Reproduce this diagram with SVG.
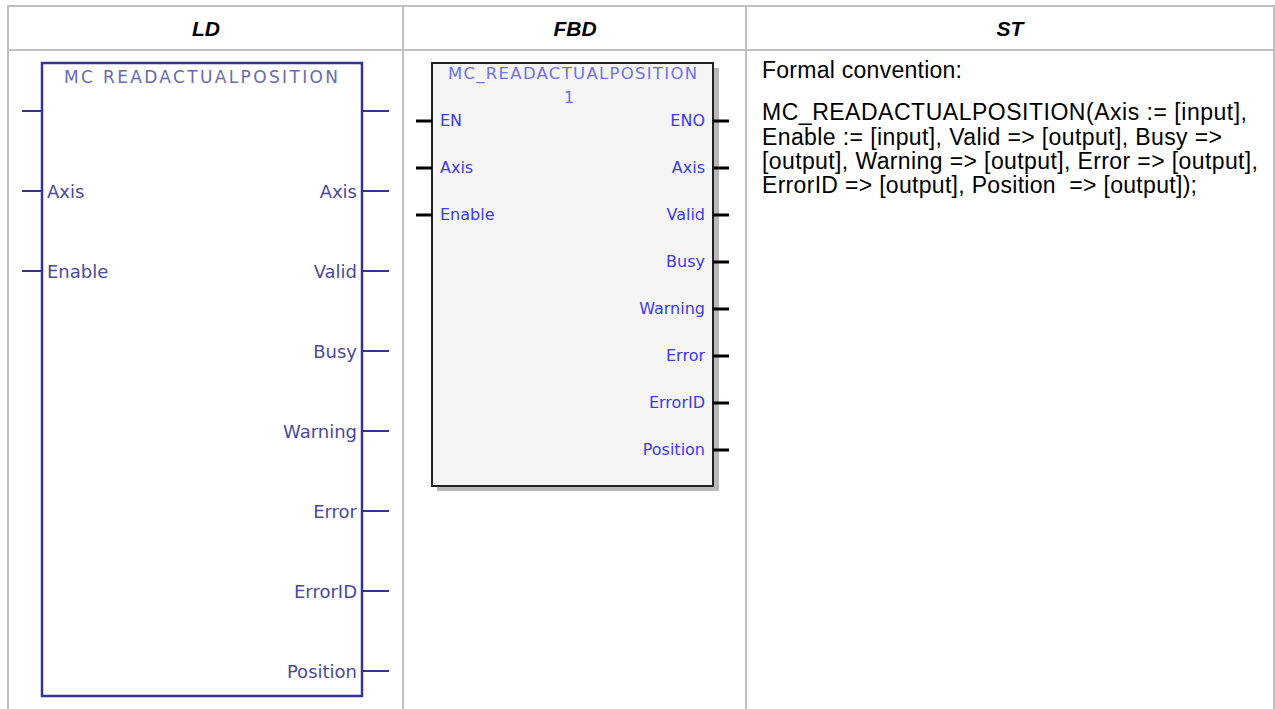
<svg xmlns="http://www.w3.org/2000/svg" width="1275" height="709" viewBox="0 0 1275 709">
<style>
.grid{stroke:#c0c0c0;stroke-width:2;fill:none}
.hdr{font-family:"Liberation Sans",Arial,sans-serif;font-weight:bold;font-style:italic;font-size:21px;fill:#000;text-anchor:middle}
.ldbox{fill:#fff;stroke:#33339a;stroke-width:2.5}
.ldpin{stroke:#33339a;stroke-width:2}
.ldt{font-family:"DejaVu Sans",Verdana,sans-serif;font-size:18px;fill:#4a4a9c}
.ldtitle{font-family:"DejaVu Sans",Verdana,sans-serif;font-size:17px;fill:#6a6ab0}
.fbbox{fill:#f5f5f5;stroke:#222;stroke-width:2}
.fbsh{fill:#b8b8b8}
.fbpin{stroke:#000;stroke-width:3}
.fbt{font-family:"DejaVu Sans",Verdana,sans-serif;font-size:16px;fill:#3a3af0}
.fbtitle{font-family:"DejaVu Sans",Verdana,sans-serif;font-size:16.5px;fill:#7070f0}
.st{font-family:"Liberation Sans",Arial,sans-serif;font-size:23px;fill:#000}
.r{text-anchor:end}
</style>
<rect width="1275" height="709" fill="#fff"/>
<g id="table">
<line class="grid" x1="8" y1="6" x2="1274" y2="6"/>
<line class="grid" x1="8" y1="50" x2="1274" y2="50"/>
<line class="grid" x1="8" y1="5" x2="8" y2="709"/>
<line class="grid" x1="403" y1="5" x2="403" y2="709"/>
<line class="grid" x1="746" y1="5" x2="746" y2="709"/>
<line class="grid" x1="1274" y1="5" x2="1274" y2="709"/>
<text class="hdr" x="206" y="36">LD</text>
<text class="hdr" x="575" y="36">FBD</text>
<text class="hdr" x="1010" y="36">ST</text>
</g>
<g id="ld-block">
<rect class="ldbox" x="42" y="63" width="320" height="633"/>
<text class="ldtitle" x="64" y="83" textLength="274" lengthAdjust="spacing">MC READACTUALPOSITION</text>
<g id="ld-pins">
<line class="ldpin" x1="22" y1="111" x2="42" y2="111"/>
<line class="ldpin" x1="22" y1="191" x2="42" y2="191"/>
<line class="ldpin" x1="22" y1="271" x2="42" y2="271"/>
<line class="ldpin" x1="362" y1="111" x2="389" y2="111"/>
<line class="ldpin" x1="362" y1="191" x2="389" y2="191"/>
<line class="ldpin" x1="362" y1="271" x2="389" y2="271"/>
<line class="ldpin" x1="362" y1="351" x2="389" y2="351"/>
<line class="ldpin" x1="362" y1="431" x2="389" y2="431"/>
<line class="ldpin" x1="362" y1="511" x2="389" y2="511"/>
<line class="ldpin" x1="362" y1="591" x2="389" y2="591"/>
<line class="ldpin" x1="362" y1="671" x2="389" y2="671"/>
</g>
<text class="ldt" x="47" y="198">Axis</text>
<text class="ldt" x="47" y="278">Enable</text>
<text class="ldt r" x="357" y="198">Axis</text>
<text class="ldt r" x="357" y="278">Valid</text>
<text class="ldt r" x="357" y="358">Busy</text>
<text class="ldt r" x="357" y="438">Warning</text>
<text class="ldt r" x="357" y="518">Error</text>
<text class="ldt r" x="357" y="598">ErrorID</text>
<text class="ldt r" x="357" y="678">Position</text>
</g>
<g id="fbd-block">
<rect class="fbsh" x="437" y="68" width="282" height="423"/>
<rect class="fbbox" x="432" y="63" width="281" height="423"/>
<text class="fbtitle" x="448" y="79" textLength="249" lengthAdjust="spacing">MC_READACTUALPOSITION</text>
<text class="fbtitle" x="569" y="103" text-anchor="middle">1</text>
<g id="fbd-pins">
<line class="fbpin" x1="416" y1="121" x2="432" y2="121"/>
<line class="fbpin" x1="416" y1="168" x2="432" y2="168"/>
<line class="fbpin" x1="416" y1="215" x2="432" y2="215"/>
<line class="fbpin" x1="713" y1="121" x2="729" y2="121"/>
<line class="fbpin" x1="713" y1="168" x2="729" y2="168"/>
<line class="fbpin" x1="713" y1="215" x2="729" y2="215"/>
<line class="fbpin" x1="713" y1="262" x2="729" y2="262"/>
<line class="fbpin" x1="713" y1="309" x2="729" y2="309"/>
<line class="fbpin" x1="713" y1="356" x2="729" y2="356"/>
<line class="fbpin" x1="713" y1="403" x2="729" y2="403"/>
<line class="fbpin" x1="713" y1="450" x2="729" y2="450"/>
</g>
<text class="fbt" x="440" y="126">EN</text>
<text class="fbt" x="440" y="173">Axis</text>
<text class="fbt" x="440" y="220">Enable</text>
<text class="fbt r" x="705" y="126">ENO</text>
<text class="fbt r" x="705" y="173">Axis</text>
<text class="fbt r" x="705" y="220">Valid</text>
<text class="fbt r" x="705" y="267">Busy</text>
<text class="fbt r" x="705" y="314">Warning</text>
<text class="fbt r" x="705" y="361">Error</text>
<text class="fbt r" x="705" y="408">ErrorID</text>
<text class="fbt r" x="705" y="455">Position</text>
</g>
<g id="st-text">
<text class="st" x="762" y="78" textLength="200" lengthAdjust="spacing">Formal convention:</text>
<text class="st" x="762" y="120" textLength="485" lengthAdjust="spacing">MC_READACTUALPOSITION(Axis := [input],</text>
<text class="st" x="762" y="145" textLength="460" lengthAdjust="spacing">Enable := [input], Valid =&gt; [output], Busy =&gt;</text>
<text class="st" x="762" y="169" textLength="496" lengthAdjust="spacing">[output], Warning =&gt; [output], Error =&gt; [output],</text>
<text class="st" x="762" y="193" textLength="435" lengthAdjust="spacing" xml:space="preserve">ErrorID =&gt; [output], Position  =&gt; [output]);</text>
</g>
</svg>
